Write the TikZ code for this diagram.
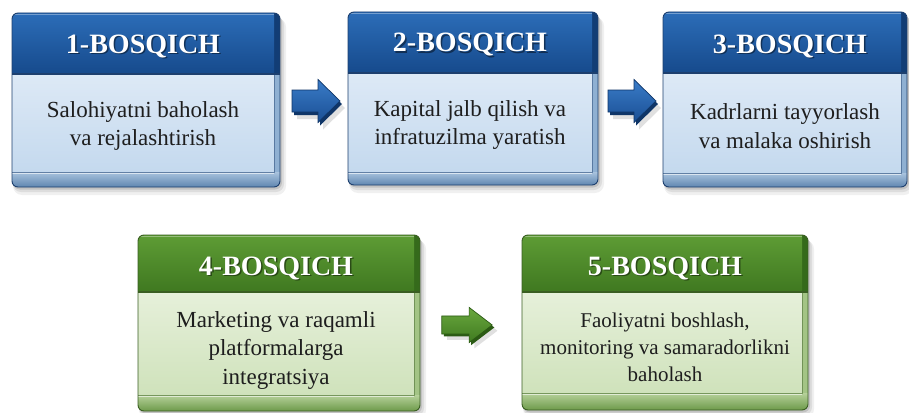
\documentclass[tikz,border=0pt]{standalone}
\usepackage{fontspec}
\setmainfont{Liberation Serif}
\definecolor{bheadtop}{HTML}{2C6DB8}
\definecolor{bheadbot}{HTML}{164A8C}
\definecolor{bheadside}{HTML}{123D75}
\definecolor{bbodytop}{HTML}{DDE9F6}
\definecolor{bbodybot}{HTML}{C4D9EE}
\definecolor{bside}{HTML}{8FB0D2}
\definecolor{bbandtop}{HTML}{A9C3DE}
\definecolor{bbandbot}{HTML}{5F86B0}
\definecolor{boutline}{HTML}{1D3F6E}
\definecolor{barrtop}{HTML}{3A7CC8}
\definecolor{barrbot}{HTML}{1A4F94}
\definecolor{barrdark}{HTML}{0F3567}
\definecolor{gheadtop}{HTML}{5E9C35}
\definecolor{gheadbot}{HTML}{3F7820}
\definecolor{gheadside}{HTML}{356A1B}
\definecolor{gbodytop}{HTML}{E6F0DA}
\definecolor{gbodybot}{HTML}{CFE2BB}
\definecolor{gside}{HTML}{A3C485}
\definecolor{gbandtop}{HTML}{B6D19A}
\definecolor{gbandbot}{HTML}{6D9A4A}
\definecolor{goutline}{HTML}{3A5E22}
\definecolor{garrtop}{HTML}{6AA83E}
\definecolor{garrbot}{HTML}{3F7A20}
\definecolor{garrdark}{HTML}{2B5A14}
\definecolor{bodyink}{HTML}{1E1E1E}
% #1 name, #2 x1, #3 y1, #4 x2, #5 y2, #6 header bottom, #7 body bottom, #8 palette
\newcommand\stagebox[8]{%
  \node[boxframe, minimum width={(#4-#2)*1pt}, minimum height={(#5-#3)*1pt}] (#1) at ({(#2+#4)/2},{(#3+#5)/2}) {};
  \fill[black, opacity=0.06, rounded corners=9] (#2+1,#3+5) rectangle (#4+6,#5+8);
  \fill[black, opacity=0.08, rounded corners=8] (#2+1,#3+4) rectangle (#4+4,#5+5);
  \fill[black, opacity=0.12, rounded corners=7] (#2+1,#3+2) rectangle (#4+2,#5+2.5);
  \begin{scope}
    \clip[rounded corners=6] (#2,#3) rectangle (#4,#5);
    \fill[#8side] (#2,#3) rectangle (#4,#5);
    \fill[#8headside] (#4-6,#3) rectangle (#4,#6);
    \shade[top color=#8headtop, bottom color=#8headbot] (#2,#3) rectangle (#4-6,#6);
    \shade[top color=#8bodytop, bottom color=#8bodybot] (#2,#6) rectangle (#4-6,#7);
    \shade[top color=#8bandtop, bottom color=#8bandbot] (#2,#7) rectangle (#4,#5);
    \draw[white, opacity=0.35, line width=1] (#2,#3+1.5) -- (#4-6,#3+1.5);
    \draw[white, opacity=0.6, line width=0.8] (#2,#7+1) -- (#4-6,#7+1);
    \draw[#8outline, line width=1.4] (#2,#6) -- (#4,#6);
    \draw[#8outline, opacity=0.5, line width=0.6] (#2,#7) -- (#4-6,#7) -- (#4-6,#6);
  \end{scope}
  \draw[#8outline, line width=0.9, rounded corners=6] (#2,#3) rectangle (#4,#5);
}
% #1 name, #2 centre, #3 xscale, #4 yscale, #5 palette
\newcommand\blockarrow[5]{%
  \coordinate (#1) at #2;
  \begin{scope}[shift={(#1)}, xscale=#3, yscale=#4]
    \fill[black, opacity=0.12] [shift={(5,7)}] (-24,-11) -- (2,-11) -- (2,-21.5) -- (24,0) -- (2,21.5) -- (2,11) -- (-24,11) -- cycle;
    \fill[#5arrdark] [shift={(2,3)}] (-24,-11) -- (2,-11) -- (2,-21.5) -- (24,0) -- (2,21.5) -- (2,11) -- (-24,11) -- cycle;
    \shade[top color=#5arrtop, bottom color=#5arrbot, draw=#5arrdark, line width=0.7] (-24,-11) -- (2,-11) -- (2,-21.5) -- (24,0) -- (2,21.5) -- (2,11) -- (-24,11) -- cycle;
  \end{scope}
}
\tikzset{
  boxframe/.style={inner sep=0, outer sep=0, draw=none},
  stagetitle/.style={text=white, font=\fontsize{28}{30}\selectfont\bfseries, inner sep=0},
  titleshadow/.style={text=black, opacity=0.45, font=\fontsize{28}{30}\selectfont\bfseries, inner sep=0},
  stagebody/.style={text=bodyink, font=\fontsize{23}{28.5}\selectfont, align=center, inner sep=0},
  smallbody/.style={stagebody, font=\fontsize{21}{27}\selectfont},
}
\begin{document}
\begin{tikzpicture}[x=1pt, y=-1pt]
\useasboundingbox (0,0) rectangle (909,412);
\fill[white] (0,0) rectangle (909,412);

\stagebox{s1}{12}{13}{280}{187}{74}{172}{b}
\stagebox{s2}{348}{12}{598}{185}{73}{172}{b}
\stagebox{s3}{663}{12}{907}{187}{73}{173}{b}
\stagebox{s4}{138}{235}{420}{411}{292}{395}{g}
\stagebox{s5}{522}{235}{808}{410}{292}{393}{g}

\blockarrow{a1}{(316,101)}{1}{1}{b}
\blockarrow{a2}{(632,101)}{1}{1}{b}
\blockarrow{a3}{(467,325)}{1.05}{0.82}{g}

\node[titleshadow] (s1ts) at (144.5,47.5) {1-BOSQICH};
\node[stagetitle] (s1t) at (143,46) {1-BOSQICH};
\node[titleshadow] (s2ts) at (471.5,46.5) {2-BOSQICH};
\node[stagetitle] (s2t) at (470,45) {2-BOSQICH};
\node[titleshadow] (s3ts) at (791.5,47.5) {3-BOSQICH};
\node[stagetitle] (s3t) at (790,46) {3-BOSQICH};
\node[titleshadow] (s4ts) at (277.5,269.5) {4-BOSQICH};
\node[stagetitle] (s4t) at (276,268) {4-BOSQICH};
\node[titleshadow] (s5ts) at (666.5,269.5) {5-BOSQICH};
\node[stagetitle] (s5t) at (665,268) {5-BOSQICH};

\node[stagebody] (s1b) at (143,126) {Salohiyatni baholash\\va rejalashtirish};
\node[stagebody] (s2b) at (470,125) {Kapital jalb qilish va\\infratuzilma yaratish};
\node[stagebody] (s3b) at (785,126) {Kadrlarni tayyorlash\\va malaka oshirish};
\node[stagebody] (s4b) at (276,350) {Marketing va raqamli\\platformalarga\\integratsiya};
\node[smallbody] (s5b) at (665,347) {Faoliyatni boshlash,\\monitoring va samaradorlikni\\baholash};
\end{tikzpicture}
\end{document}
